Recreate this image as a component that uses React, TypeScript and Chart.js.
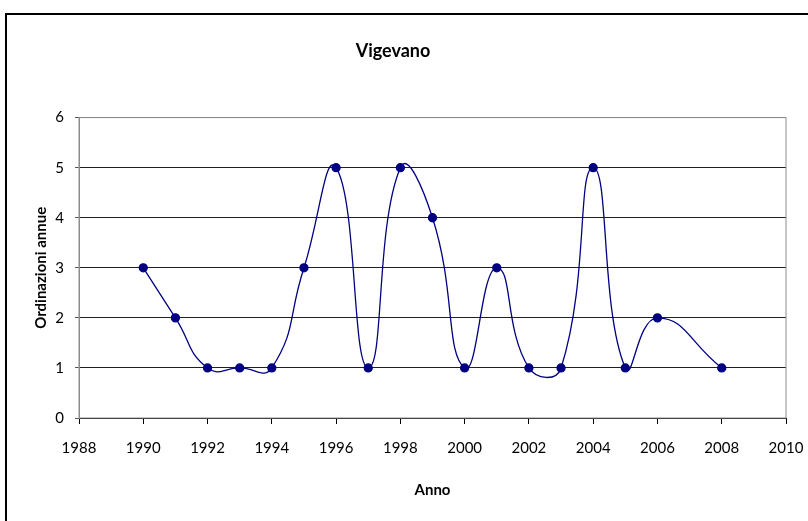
import React, { useEffect, useRef } from "react";
import { Chart, registerables } from "chart.js";

Chart.register(...registerables);

const years = [1990, 1991, 1992, 1993, 1994, 1995, 1996, 1997, 1998, 1999, 2000, 2001, 2002, 2003, 2004, 2005, 2006, 2008];
const ordinazioni = [3, 2, 1, 1, 1, 3, 5, 1, 5, 4, 1, 3, 1, 1, 5, 1, 2, 1];
const titleText = "Vigevano";
const xTitle = "Anno";
const yTitle = "Ordinazioni annue";

const FONT = "Lato, 'Open Sans', sans-serif";

const frame = {
  id: "plotFrame",
  beforeDatasetsDraw(chart: any) {
    const { ctx, chartArea } = chart;
    ctx.save();
    ctx.strokeStyle = "#8c8c8c";
    ctx.lineWidth = 1;
    ctx.strokeRect(chartArea.left, chartArea.top, chartArea.right - chartArea.left, chartArea.bottom - chartArea.top);
    ctx.restore();
  },
};

export default function App() {
  const ref = useRef<HTMLCanvasElement>(null);
  useEffect(() => {
    if (!ref.current) return;
    const chart = new Chart(ref.current, {
      type: "line",
      data: {
        datasets: [
          {
            data: years.map((y, i) => ({ x: y, y: ordinazioni[i] })),
            borderColor: "#000080",
            backgroundColor: "#000080",
            borderWidth: 1.3,
            pointRadius: 4,
            pointBackgroundColor: "#000080",
            pointBorderColor: "#000080",
            tension: 0.5,
            fill: false,
          },
        ],
      },
      options: {
        animation: false,
        responsive: false,
        layout: { padding: { left: 0, right: 22, top: 0, bottom: 0 } },
        plugins: {
          legend: { display: false },
          tooltip: { enabled: false },
          title: {
            display: true,
            text: titleText,
            color: "#000",
            font: { family: FONT, size: 18, weight: "bold" },
            padding: { top: 40, bottom: 56 },
          },
        },
        scales: {
          x: {
            type: "linear",
            min: 1988,
            max: 2010,
            afterFit: (s: any) => { s.height = 103; s.paddingLeft = 0; s.paddingRight = 0; },
            ticks: {
              stepSize: 2,
              color: "#000",
              font: { family: FONT, size: 15 },
              padding: 15,
              maxRotation: 0,
              callback: (v: any) => String(v),
            },
            grid: { drawOnChartArea: false, drawTicks: true, tickLength: 6, tickColor: "#000" },
            border: { color: "#000", width: 1 },
            title: {
              display: true,
              text: xTitle,
              color: "#000",
              font: { family: FONT, size: 15, weight: "bold" },
              padding: { top: 22, bottom: 22 },
            },
          },
          y: {
            min: 0,
            max: 6,
            afterFit: (s: any) => { s.width = 79; },
            ticks: {
              stepSize: 1,
              color: "#000",
              font: { family: FONT, size: 15 },
              padding: 11,
            },
            grid: {
              color: (c: any) => (c.tick && c.tick.value === 6 ? "#8c8c8c" : "#202020"),
              tickLength: 4,
              tickColor: "#555",
              drawTicks: true,
            },
            border: { color: "#8c8c8c", width: 1 },
            title: {
              display: true,
              text: yTitle,
              color: "#000",
              font: { family: FONT, size: 15, weight: "bold" },
              padding: { top: 32, bottom: 32 },
            },
          },
        },
      },
      plugins: [frame],
    } as any);
    return () => chart.destroy();
  }, []);

  return (
    <div style={{ position: "fixed", left: 0, top: 0, width: 808, height: 521, background: "#fff", overflow: "hidden" }}>
      <div
        style={{
          position: "absolute",
          left: 5,
          top: 13,
          width: 830,
          height: 540,
          border: "2px solid #000",
          boxSizing: "border-box",
        }}
      />
      <canvas ref={ref} width={808} height={521} style={{ position: "absolute", left: 0, top: 0 }} />
    </div>
  );
}
